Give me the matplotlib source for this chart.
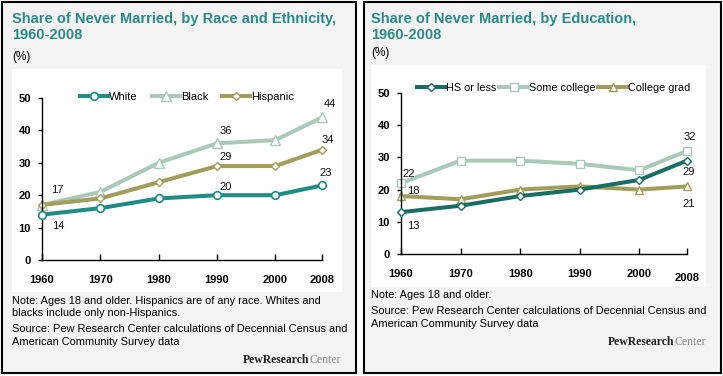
#!/usr/bin/env python3
"""Share of never married, 1960-2008: by race/ethnicity and by education (two panels)."""
import matplotlib
matplotlib.use("Agg")
import matplotlib.pyplot as plt
from matplotlib.patches import Rectangle

YEARS = [1960, 1970, 1980, 1990, 2000, 2008]

# left panel
RACE_LABELS = ["White", "Black", "Hispanic"]
WHITE = [14, 16, 19, 20, 20, 23]
BLACK = [17, 21, 30, 36, 37, 44]
HISPANIC = [17, 19, 24, 29, 29, 34]

# right panel
EDU_LABELS = ["HS or less", "Some college", "College grad"]
HS_OR_LESS = [13, 15, 18, 20, 23, 29]
SOME_COLLEGE = [22, 29, 29, 28, 26, 32]
COLLEGE_GRAD = [18, 17, 20, 21, 20, 21]

Y_TICKS = [0, 10, 20, 30, 40, 50]

W, H = 723, 376
TEAL = "#1f8c86"
DARK_TEAL = "#1a6d63"
SAGE = "#a9c9b9"
OLIVE = "#a39d5b"
TITLE_C = "#2b8a86"
PANEL_BG = "#f3f3f3"
NOTE_FS = 7.9

plt.rcParams["font.family"] = ["Liberation Sans", "DejaVu Sans"]


def fx(px):
    return px / W


def fy(py):
    return 1 - py / H


def panel(fig, x0, y0, x1, y1, ix0, iy0, ix1, iy1):
    fig.patches.append(Rectangle((fx(x0), fy(y1)), fx(x1 - x0), (y1 - y0) / H,
                                 transform=fig.transFigure, facecolor=PANEL_BG,
                                 edgecolor="black", linewidth=1.5, zorder=-2))
    fig.patches.append(Rectangle((fx(ix0), fy(iy1)), fx(ix1 - ix0), (iy1 - iy0) / H,
                                 transform=fig.transFigure, facecolor="white",
                                 edgecolor="none", zorder=-1))


def setup_axes(ax):
    ax.set_zorder(2)
    ax.set_facecolor("none")
    ax.set_xlim(1960, 2008)
    ax.set_ylim(0, 50)
    for s in ("top", "right"):
        ax.spines[s].set_visible(False)
    for s in ("left", "bottom"):
        ax.spines[s].set_linewidth(1.0)
    ax.set_yticks(Y_TICKS)
    ax.set_xticks(YEARS)
    ax.tick_params(axis="y", direction="out", length=3, width=1, pad=5, labelsize=8)
    ax.tick_params(axis="x", direction="in", length=4, width=1, pad=11, labelsize=8)
    for lab in ax.get_xticklabels() + ax.get_yticklabels():
        lab.set_fontweight("bold")


def label(ax, x, y, text, dx, dy):
    ax.annotate(text, (x, y), xytext=(dx, dy), textcoords="offset pixels",
                ha="center", va="center", fontsize=8, color="#111111")


def main():
    fig = plt.figure(figsize=(W / 100, H / 100), dpi=100)
    fig.patch.set_facecolor("white")

    panel(fig, 1.5, 1.5, 356, 372.5, 12, 69, 342, 292)
    panel(fig, 363.5, 1.5, 720.5, 372.5, 371, 65, 706, 287)

    # ---------- left: race and ethnicity ----------
    ax = fig.add_axes([fx(42), fy(260), fx(322 - 42), (260 - 98) / H])
    setup_axes(ax)
    lw = 2.9
    ax.plot(YEARS, WHITE, color=TEAL, lw=lw, marker="o", ms=5.5, mfc="white",
            mec=TEAL, mew=1.2, label=RACE_LABELS[0], clip_on=False, zorder=3)
    ax.plot(YEARS, BLACK, color=SAGE, lw=lw, marker="^", ms=6.5, mfc="white",
            mec=SAGE, mew=1.0, label=RACE_LABELS[1], clip_on=False, zorder=2)
    ax.plot(YEARS, HISPANIC, color=OLIVE, lw=lw, marker="D", ms=4, mfc="white",
            mec=OLIVE, mew=1.0, label=RACE_LABELS[2], clip_on=False, zorder=2.5)
    ax.legend(loc="center left", bbox_to_anchor=(0.135, 1.006), ncol=3, frameon=False,
              fontsize=8, handlelength=2.5, handletextpad=0.1, columnspacing=1.3,
              borderpad=0, borderaxespad=0, numpoints=1)

    label(ax, YEARS[0], BLACK[0], BLACK[0], 15, 15)
    label(ax, YEARS[0], WHITE[0], WHITE[0], 16, -11)
    label(ax, YEARS[3], BLACK[3], BLACK[3], 9, 12)
    label(ax, YEARS[3], HISPANIC[3], HISPANIC[3], 9, 9)
    label(ax, YEARS[3], WHITE[3], WHITE[3], 9, 8)
    label(ax, YEARS[5], BLACK[5], BLACK[5], 8, 13)
    label(ax, YEARS[5], HISPANIC[5], HISPANIC[5], 6, 10)
    label(ax, YEARS[5], WHITE[5], WHITE[5], 4, 12)

    fig.text(fx(12), fy(19), "Share of Never Married, by Race and Ethnicity,",
             fontsize=10.5, fontweight="bold", color=TITLE_C, va="center")
    fig.text(fx(12), fy(35), "1960-2008", fontsize=10.5, fontweight="bold",
             color=TITLE_C, va="center")
    fig.text(fx(12), fy(57), "(%)", fontsize=8.5, va="center")
    fig.text(fx(12), fy(301), "Note: Ages 18 and older. Hispanics are of any race. Whites and",
             fontsize=NOTE_FS, va="center")
    fig.text(fx(12), fy(313), "blacks include only non-Hispanics.", fontsize=NOTE_FS, va="center")
    fig.text(fx(12), fy(329), "Source: Pew Research Center calculations of Decennial Census and",
             fontsize=NOTE_FS, va="center")
    fig.text(fx(12), fy(342), "American Community Survey data", fontsize=NOTE_FS, va="center")

    # ---------- right: education ----------
    ax2 = fig.add_axes([fx(401), fy(254), fx(687 - 401), (254 - 93) / H])
    setup_axes(ax2)
    ax2.get_xticklabels()[-1].set_y(-0.025)
    ax2.plot(YEARS, HS_OR_LESS, color=DARK_TEAL, lw=lw, marker="D", ms=4, mfc="white",
             mec=DARK_TEAL, mew=1.0, label=EDU_LABELS[0], clip_on=False, zorder=3)
    ax2.plot(YEARS, SOME_COLLEGE, color=SAGE, lw=lw, marker="s", ms=6, mfc="white",
             mec=SAGE, mew=1.0, label=EDU_LABELS[1], clip_on=False, zorder=2)
    ax2.plot(YEARS, COLLEGE_GRAD, color=OLIVE, lw=lw, marker="^", ms=6, mfc="white",
             mec=OLIVE, mew=1.0, label=EDU_LABELS[2], clip_on=False, zorder=2.5)
    ax2.legend(loc="center left", bbox_to_anchor=(0.055, 1.031), ncol=3, frameon=False,
               fontsize=7.8, handlelength=2.6, handletextpad=0.1, columnspacing=0.3,
               borderpad=0, borderaxespad=0, numpoints=1)

    label(ax2, YEARS[0], SOME_COLLEGE[0], SOME_COLLEGE[0], 8, 9)
    label(ax2, YEARS[0], COLLEGE_GRAD[0], COLLEGE_GRAD[0], 12, 5)
    label(ax2, YEARS[0], HS_OR_LESS[0], HS_OR_LESS[0], 12, -14)
    label(ax2, YEARS[5], SOME_COLLEGE[5], SOME_COLLEGE[5], 3, 14)
    label(ax2, YEARS[5], HS_OR_LESS[5], HS_OR_LESS[5], 2, -11)
    label(ax2, YEARS[5], COLLEGE_GRAD[5], COLLEGE_GRAD[5], 2, -18)

    fig.text(fx(371), fy(19), "Share of Never Married, by Education,",
             fontsize=10.5, fontweight="bold", color=TITLE_C, va="center")
    fig.text(fx(371), fy(35), "1960-2008", fontsize=10.5, fontweight="bold",
             color=TITLE_C, va="center")
    fig.text(fx(371), fy(53), "(%)", fontsize=8.5, va="center")
    fig.text(fx(371), fy(295), "Note: Ages 18 and older.", fontsize=NOTE_FS, va="center")
    fig.text(fx(371), fy(311), "Source: Pew Research Center calculations of Decennial Census and",
             fontsize=NOTE_FS, va="center")
    fig.text(fx(371), fy(324), "American Community Survey data", fontsize=NOTE_FS, va="center")

    # Pew logo text
    for right_px, y_px in ((341, 360), (706, 342)):
        t = fig.text(fx(right_px), fy(y_px), "Center", fontsize=8.5, color="#8a8a8a",
                     family="Liberation Serif", ha="right", va="center")
        fig.canvas.draw()
        bb = t.get_window_extent()
        fig.text(bb.x0 / W, fy(y_px), "PewResearch", fontsize=8.5, color="#222222",
                 family="Liberation Serif", fontweight="bold", ha="right", va="center")

    fig.savefig("out.png", dpi=100)


if __name__ == "__main__":
    main()
